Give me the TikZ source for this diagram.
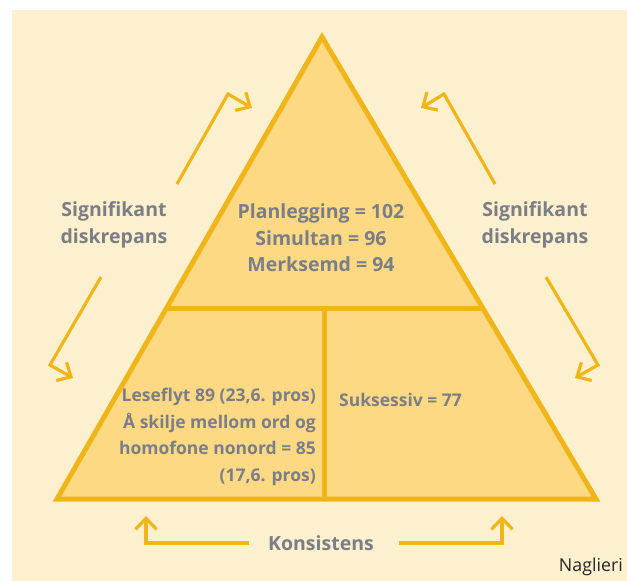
\documentclass[tikz,border=0pt]{standalone}
\usepackage{fontspec}
\setmainfont{Open Sans}
\usetikzlibrary{arrows.meta,calc}
\definecolor{bgbeige}{HTML}{FDF0CE}
\definecolor{trifill}{HTML}{FDD984}
\definecolor{amber}{HTML}{F0B619}
\definecolor{txtgray}{HTML}{7C7E86}
\tikzset{
  tri/.style={draw=amber, line width=5pt, line join=miter},
  bentarrow/.style={draw=amber, line width=3.2pt, line join=miter,
    -{Straight Barb[length=11pt,width=21pt,line join=miter]}},
  lbl/.style={text=txtgray, font=\fontsize{19.5}{26.5}\selectfont\bfseries, inner sep=0pt},
  lblsmall/.style={text=txtgray, font=\fontsize{17.5}{26.5}\selectfont\bfseries, inner sep=0pt},
}
\begin{document}
\begin{tikzpicture}[x=1pt,y=-1pt]
\useasboundingbox (0,0) rectangle (627,581);
\fill[white] (0,0) rectangle (627,581);
\fill[bgbeige] (12,10) rectangle (627,581);
% triangle
\coordinate (A) at (322,37);
\coordinate (L) at (57,499);
\coordinate (R) at (596,499);
\coordinate (ML) at ($(A)!0.587!(L)$);
\coordinate (MR) at ($(A)!0.587!(R)$);
\fill[trifill] (A) -- (L) -- (R) -- cycle;
\draw[tri] (ML) -- (MR);
\draw[tri] (324,308) -- (324,499);
\draw[tri] (A) -- (L) -- (R) -- cycle;
% texts
\node[lbl, align=center] (top) at (321,238) {Planlegging = 102\\Simultan = 96\\Merksemd = 94};
\node[lblsmall, align=right, anchor=east] (bl) at (316,437) {Leseflyt 89 (23,6. pros)\\Å skilje mellom ord og\\homofone nonord = 85\\(17,6. pros)};
\node[lblsmall, anchor=west] (br) at (339,400) {Suksessiv = 77};
\node[lbl, align=center] (sl) at (114,225) {Signifikant\\diskrepans};
\node[lbl, align=center] (sr) at (535,225) {Signifikant\\diskrepans};
\node[lbl] (kon) at (321,543) {Konsistens};
\node[anchor=south east, inner sep=0pt, text=black!85, font=\fontsize{17.8}{20}\selectfont] (nag) at (623,576) {Naglieri};
% arrows
\draw[bentarrow] (177,184) -- (228,94) -- (252,108);
\draw[bentarrow] (101,277) -- (50,365) -- (73,378);
\draw[bentarrow] (495,184) -- (444,94) -- (421,108);
\draw[bentarrow] (546,277) -- (598,365) -- (575,378);
\draw[bentarrow] (249,543) -- (146,543) -- (146,516);
\draw[bentarrow] (399,543) -- (502,543) -- (502,516);
\end{tikzpicture}
\end{document}
